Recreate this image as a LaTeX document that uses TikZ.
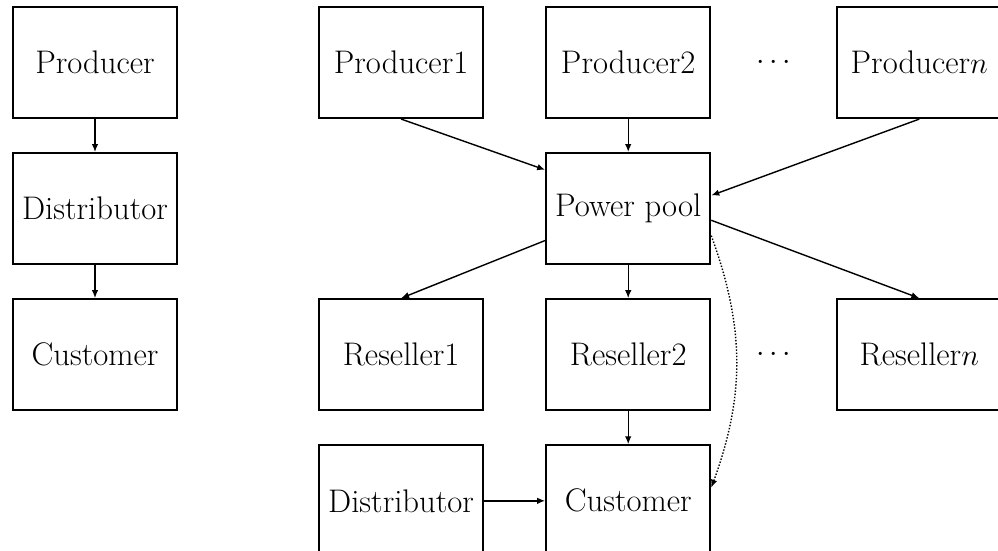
\documentclass[tikz,border=0pt]{standalone}
\usepackage{tikz}
\usetikzlibrary{positioning,calc,arrows.meta}
\begin{document}
\begin{tikzpicture}[
        node distance=0.66cm and 1.22cm,
        box/.style={rectangle, draw, line width=1.2pt, minimum width=3.28cm, minimum height=2.22cm, align=center, font=\fontsize{18.6}{22}\selectfont},
        arrow/.style={-{Latex[length=1.6mm,width=1.3mm]}, line width=0.8pt}
    ]
    \useasboundingbox (0,0) rectangle (19.96,-11.02);

    % Vertically integrated chain
    \node[box] (prod) at (1.9,-1.25) {Producer};
    \node[box, below=of prod] (dist) {Distributor};
    \node[box, below=of dist] (cust) {Customer};

    % Pool market
    \node[box, right=2.8cm of prod] (p1) {Producer1};
    \node[box, right=of p1] (p2) {Producer2};
    \node[box, right=2.5cm of p2] (pn) {Producer$n$};
    \node[font=\fontsize{18.6}{22}\selectfont] (pdots) at ($(p2.east)!0.5!(pn.west)$) {$\cdots$};

    \node[box, below=of p2] (pool) {Power pool};

    \node[box, below=of pool] (r2) {Reseller2};
    \node[box, left=of r2] (r1) {Reseller1};
    \node[box, right=2.5cm of r2] (rn) {Reseller$n$};
    \node[font=\fontsize{18.6}{22}\selectfont] (rdots) at ($(r2.east)!0.5!(rn.west)$) {$\cdots$};

    \node[box, below=of r2] (pcust) {Customer};
    \node[box, left=of pcust] (pdist) {Distributor};

    % Arrows
    \draw[arrow] (prod) -- (dist);
    \draw[arrow] (dist) -- (cust);

    \draw[arrow] (p1.south) -- (pool.155);
    \draw[arrow] (p2) -- (pool);
    \draw[arrow] (pn.south) -- (pool.9);

    \draw[arrow] (pool.201) -- (r1.north);
    \draw[arrow] (pool) -- (r2);
    \draw[arrow] (pool.-8) -- (rn.north);

    \draw[arrow] (r2) -- (pcust);
    \draw[arrow] (pdist) -- (pcust);
    \draw[arrow, densely dotted] (pool.-18) to[bend left=20] (pcust.9);

\end{tikzpicture}
\end{document}
